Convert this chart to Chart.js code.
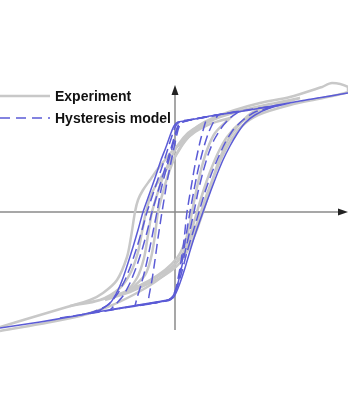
<!DOCTYPE html>
<html>
<head>
<meta charset="utf-8">
<script src="https://cdn.jsdelivr.net/npm/chart.js@4.4.1/dist/chart.umd.min.js"></script>
<style>
html, body { margin: 0; padding: 0; background: #fff; }
#wrap { width: 348px; height: 401px; }
</style>
</head>
<body>
<div id="wrap"><canvas id="hysteresisChart" width="348" height="401"></canvas></div>
<script>
// Boucles force / déplacement (unités relatives, origine au croisement des axes)
const legendLabels = ['Experiment', 'Hysteresis model'];

// Modèle d'hystérésis - branches montantes et descendantes
const model1Up = [[-175,-116],[-135,-110],[-95,-103],[-55,-96],[-25,-91],[-7,-88],[-2,-86],[1,-81],[5,-71],[10,-56],[15,-39],[21,-20],[28,0],[35,19],[41,35],[48,52],[55,66],[62,78],[70,89],[80,97],[95,104],[125,111],[173,119]];
const model1Down = [[173,119],[125,111],[75,102],[35,96],[10,91],[3,90],[-1,86],[-4,79],[-9,65],[-14,52],[-20,34],[-26,17],[-32,0],[-37,-18],[-42,-35],[-47,-51],[-52,-66],[-57,-78],[-64,-90],[-75,-98],[-95,-103],[-135,-110],[-175,-116]];
const model2Up = [[-115,-106],[-75,-100],[-35,-93],[-10,-89],[-3,-86],[1,-78],[6,-63],[12,-40],[18,-20],[24,0],[30,20],[36,37],[43,54],[50,69],[58,82],[68,92],[80,100],[105,107]];
const model2Down = [[105,107],[65,101],[25,94],[7,91],[2,88],[-1,82],[-5,70],[-10,54],[-16,36],[-22,18],[-28,0],[-33,-18],[-38,-35],[-44,-53],[-50,-68],[-57,-81],[-67,-93],[-85,-101],[-115,-106]];
const model3Up = [[-65,-98],[-25,-92],[-7,-88],[-2,-84],[2,-75],[6,-58],[11,-36],[15,-18],[19,0],[23,20],[28,40],[33,57],[39,72],[47,85],[55,94],[65,101]];
const model3Down = [[65,101],[30,95],[10,91],[4,88],[1,81],[-3,67],[-8,50],[-13,34],[-18,17],[-23,0],[-28,-20],[-33,-38],[-39,-56],[-45,-71],[-52,-84],[-60,-93],[-65,-98]];
const model4Up = [[-40,-94],[-15,-90],[-5,-88],[-1,-83],[3,-71],[7,-50],[11,-24],[15,0],[19,22],[23,42],[28,62],[33,78],[38,89],[43,97]];
const model4Down = [[43,97],[20,93],[7,90],[3,85],[0,75],[-4,60],[-9,42],[-14,22],[-18,0],[-22,-20],[-26,-40],[-30,-58],[-34,-73],[-38,-86],[-40,-94]];
const model5Up = [[-27,-92],[-10,-89],[-3,-86],[1,-76],[5,-56],[9,-28],[12,0],[16,24],[20,47],[25,70],[29,85],[32,95]];
const model5Down = [[32,95],[15,92],[6,89],[3,82],[0,69],[-4,50],[-8,30],[-13,0],[-17,-26],[-20,-48],[-23,-68],[-26,-84],[-27,-92]];

// Essais expérimentaux
const exp1Up = [[-175,-119],[-135,-112],[-95,-104],[-65,-94],[-40,-82],[-20,-70],[-5,-58],[5,-46],[13,-32],[20,-17],[26,0],[32,18],[39,36],[47,55],[56,72],[67,86],[83,97],[115,107],[148,114],[173,120],[173,125],[157,129],[147,125]];
const exp1Down = [[147,125],[115,115],[85,109],[60,102],[38,94],[23,86],[12,76],[5,68],[-2,62],[-10,52],[-18,42],[-25,32],[-32,22],[-37,12],[-40,0],[-44,-25],[-48,-45],[-58,-68],[-72,-81],[-85,-88],[-108,-95],[-145,-106],[-175,-115]];
const exp2Up = [[-105,-94],[-75,-88],[-50,-80],[-27,-70],[-10,-60],[2,-50],[10,-38],[16,-20],[22,0],[28,20],[35,40],[43,59],[52,75],[65,89],[83,100],[105,108],[125,114]];
const exp2Down = [[125,114],[95,108],[65,101],[40,93],[23,84],[11,72],[1,57],[-9,42],[-19,27],[-25,14],[-29,0],[-33,-20],[-37,-40],[-44,-60],[-55,-76],[-75,-88],[-105,-94]];
const exp3Up = [[-70,-88],[-45,-80],[-25,-71],[-10,-63],[3,-53],[13,-38],[21,-20],[28,0],[34,19],[39,37],[45,54],[53,72],[63,86],[75,98],[90,106]];
const exp3Down = [[90,106],[65,101],[43,95],[25,87],[13,79],[3,67],[-5,52],[-12,35],[-18,17],[-23,0],[-27,-23],[-31,-46],[-38,-66],[-50,-80],[-70,-88]];
const exp4Up = [[-45,-78],[-25,-68],[-10,-58],[2,-46],[9,-33],[14,-16],[17,0],[21,20],[26,42],[32,62],[40,79],[55,94]];
const exp4Down = [[55,94],[35,88],[20,80],[9,70],[1,57],[-6,40],[-12,20],[-17,0],[-20,-23],[-24,-46],[-30,-63],[-45,-78]];

const modelColor = '#5b5bd6';
const expColor = '#c8c8c8';

function toPoints(up, down) {
    return up.concat(down).map(p => ({ x: p[0], y: p[1] }));
}

function modelDataset(up, down, dash) {
    return {
        data: toPoints(up, down),
        borderColor: modelColor,
        borderWidth: 1.5,
        borderDash: dash,
        showLine: true,
        pointRadius: 0,
        tension: 0.2
    };
}

function expDataset(up, down) {
    return {
        data: toPoints(up, down),
        borderColor: expColor,
        borderWidth: 2.5,
        showLine: true,
        pointRadius: 0,
        tension: 0.3
    };
}

// Axes avec flèches
const axesPlugin = {
    id: 'axesPlugin',
    beforeDatasetsDraw(chart) {
        const ctx = chart.ctx;
        const x0 = chart.scales.x.getPixelForValue(0);
        const y0 = chart.scales.y.getPixelForValue(0);
        ctx.save();
        ctx.strokeStyle = '#8a8a8a';
        ctx.lineWidth = 1.5;
        ctx.beginPath();
        ctx.moveTo(x0, 92);
        ctx.lineTo(x0, 330);
        ctx.moveTo(0, y0);
        ctx.lineTo(343, y0);
        ctx.stroke();
        ctx.fillStyle = '#222';
        ctx.beginPath();
        ctx.moveTo(x0, 85);
        ctx.lineTo(x0 - 3.5, 95);
        ctx.lineTo(x0 + 3.5, 95);
        ctx.closePath();
        ctx.fill();
        ctx.beginPath();
        ctx.moveTo(348, y0);
        ctx.lineTo(338, y0 - 3.5);
        ctx.lineTo(338, y0 + 3.5);
        ctx.closePath();
        ctx.fill();
        ctx.restore();
    }
};

// Légende dessinée en haut à gauche
const legendPlugin = {
    id: 'legendPlugin',
    afterDraw(chart) {
        const ctx = chart.ctx;
        ctx.save();
        ctx.lineWidth = 2.5;
        ctx.strokeStyle = expColor;
        ctx.beginPath();
        ctx.moveTo(0, 96);
        ctx.lineTo(50, 96);
        ctx.stroke();
        ctx.lineWidth = 1.5;
        ctx.strokeStyle = modelColor;
        ctx.setLineDash([10, 6]);
        ctx.beginPath();
        ctx.moveTo(0, 118);
        ctx.lineTo(50, 118);
        ctx.stroke();
        ctx.setLineDash([]);
        ctx.fillStyle = '#111';
        ctx.font = 'bold 14px Arial, "Liberation Sans", sans-serif';
        ctx.textBaseline = 'middle';
        ctx.fillText(legendLabels[0], 55, 97);
        ctx.fillText(legendLabels[1], 55, 119);
        ctx.restore();
    }
};

new Chart(document.getElementById('hysteresisChart'), {
    type: 'scatter',
    data: {
        datasets: [
            modelDataset(model1Up, model1Down, []),
            modelDataset(model2Up, model2Down, [10, 5]),
            modelDataset(model3Up, model3Down, [10, 5]),
            modelDataset(model4Up, model4Down, [10, 5]),
            modelDataset(model5Up, model5Down, [10, 5]),
            expDataset(exp1Up, exp1Down),
            expDataset(exp2Up, exp2Down),
            expDataset(exp3Up, exp3Down),
            expDataset(exp4Up, exp4Down)
        ]
    },
    options: {
        responsive: false,
        animation: false,
        events: [],
        layout: { padding: 0 },
        plugins: {
            legend: { display: false },
            tooltip: { enabled: false }
        },
        scales: {
            x: { type: 'linear', min: -175, max: 173, display: false },
            y: { type: 'linear', min: -189, max: 212, display: false }
        }
    },
    plugins: [axesPlugin, legendPlugin]
});
</script>
</body>
</html>
